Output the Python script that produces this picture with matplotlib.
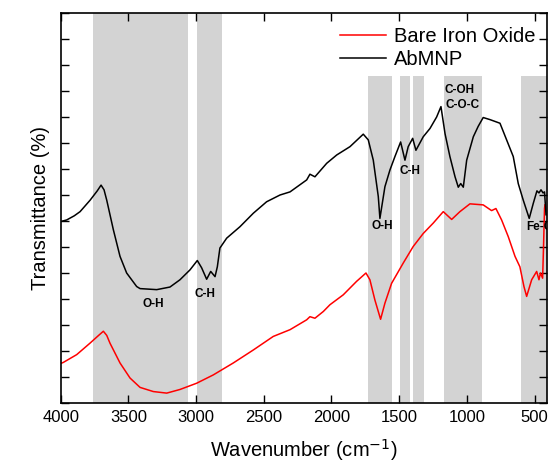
import numpy as np
import matplotlib
matplotlib.use('Agg')
import matplotlib.pyplot as plt

plt.rcParams['font.family'] = ['Liberation Sans', 'DejaVu Sans']

# AbMNP spectrum (wavenumber, transmittance a.u.)
abmnp_wn = [4000, 3956, 3900, 3857, 3783, 3730, 3702, 3680, 3660, 3611, 3562, 3513, 3439, 3414,
            3291, 3193, 3119, 3045, 2991, 2959, 2922, 2892, 2860, 2843, 2824, 2774, 2676, 2577,
            2479, 2380, 2306, 2183, 2159, 2122, 2035, 1961, 1863, 1765, 1728, 1691, 1654, 1642,
            1605, 1568, 1531, 1489, 1457, 1433, 1400, 1376, 1322, 1272, 1223, 1191, 1161, 1125,
            1087, 1063, 1045, 1026, 1001, 952, 916, 879, 829, 755, 706, 657, 620, 583, 539, 509,
            482, 467, 452, 437, 426, 415]
abmnp_t = [34.9, 35.2, 36.0, 36.8, 39.0, 40.8, 41.9, 41.0, 39.0, 33.3, 28.2, 25.0, 22.4, 22.0,
           21.8, 22.3, 23.7, 25.6, 27.4, 26.0, 23.8, 25.3, 24.3, 26.2, 29.8, 31.7, 33.9, 36.5,
           38.7, 40.0, 40.6, 42.9, 44.0, 43.5, 46.1, 47.7, 49.3, 51.7, 50.6, 46.7, 39.7, 35.5,
           41.6, 44.8, 47.4, 50.2, 46.7, 49.3, 50.9, 48.6, 51.2, 52.8, 55.0, 57.0, 51.8, 47.4,
           43.5, 41.5, 42.2, 41.5, 46.7, 51.2, 53.2, 54.9, 54.5, 53.8, 50.6, 47.4, 42.2, 39.0,
           35.5, 38.4, 40.8, 40.4, 41.0, 40.4, 40.6, 36.2]

# Bare iron oxide spectrum
bare_wn = [4000, 3981, 3882, 3784, 3720, 3685, 3660, 3636, 3562, 3488, 3414, 3316, 3217, 3119,
           2996, 2873, 2725, 2577, 2430, 2306, 2183, 2159, 2122, 2060, 2011, 1913, 1814, 1745,
           1716, 1679, 1637, 1605, 1556, 1470, 1396, 1322, 1248, 1174, 1112, 1051, 977, 879, 817,
           785, 743, 694, 644, 608, 578, 558, 521, 484, 467, 456, 440, 434, 426, 423]
bare_t = [7.6, 7.8, 9.3, 11.5, 13.0, 13.8, 13.0, 11.5, 7.7, 4.8, 3.0, 2.2, 1.9, 2.6,
          3.8, 5.4, 7.7, 10.2, 12.8, 14.1, 16.0, 16.6, 16.3, 17.6, 18.9, 20.8, 23.4, 25.0,
          23.7, 19.8, 16.1, 19.2, 23.0, 26.9, 30.1, 32.6, 34.6, 36.8, 35.3, 36.8, 38.3, 38.1, 37.0,
          37.4, 35.2, 32.0, 28.2, 26.2, 22.4, 20.5, 23.7, 25.3, 23.7, 25.0, 24.0, 29.4, 37.4, 38.1]

# shaded band regions (cm-1) and whether they span the full height
bands = [(3760, 3060, True), (2990, 2810, True), (1730, 1550, False), (1490, 1420, False),
         (1400, 1320, False), (1170, 885, False), (600, 400, False)]

# peak labels: text, wavenumber, transmittance
peak_labels = [('O-H', 3315, 19.0), ('C-H', 2935, 20.9), ('O-H', 1628, 34.1),
               ('C-H', 1417, 44.6), ('C-OH', 1055, 60.2), ('C-O-C', 1035, 57.3)]

fig = plt.figure(figsize=(5.48, 4.63), dpi=100)
ax = fig.add_axes([0.1108, 0.1296, 0.8868, 0.8423])

for hi, lo, full in bands:
    ax.axvspan(lo, hi, ymin=0, ymax=1 if full else 0.838, color='#d3d3d3', lw=0, zorder=0)

ax.plot(bare_wn, bare_t, color='red', lw=1.1, label='Bare Iron Oxide')
ax.plot(abmnp_wn, abmnp_t, color='black', lw=1.1, label='AbMNP')

for txt, x, y in peak_labels:
    ax.text(x, y, txt, fontsize=8.5, fontweight='bold', ha='center', va='center')
# Fe-O label runs past the right spine in the original
ax.text(563, 33.9, 'Fe-O', fontsize=8.5, fontweight='bold', ha='left', va='center', clip_on=True)

ax.set_xlim(4000, 410)
ax.set_ylim(0, 75)
ax.set_xticks([4000, 3500, 3000, 2500, 2000, 1500, 1000, 500])
ax.set_yticks(np.arange(0, 76, 5))
ax.set_yticklabels([])
ax.tick_params(direction='in', top=True, right=True, length=5.5, width=1, labelsize=12)
ax.tick_params(axis='x', pad=5)
for s in ax.spines.values():
    s.set_linewidth(1.2)

ax.set_xlabel('Wavenumber (cm$^{-1}$)', fontsize=14.5, labelpad=9)
ax.set_ylabel('Transmittance (%)', fontsize=14.5, labelpad=4)

ax.legend(loc='upper left', bbox_to_anchor=(0.575, 0.965), frameon=False, fontsize=14.5,
          handlelength=2.3, handletextpad=0.35, labelspacing=0.2, borderpad=0, borderaxespad=0)

fig.savefig('out.png', dpi=100)
